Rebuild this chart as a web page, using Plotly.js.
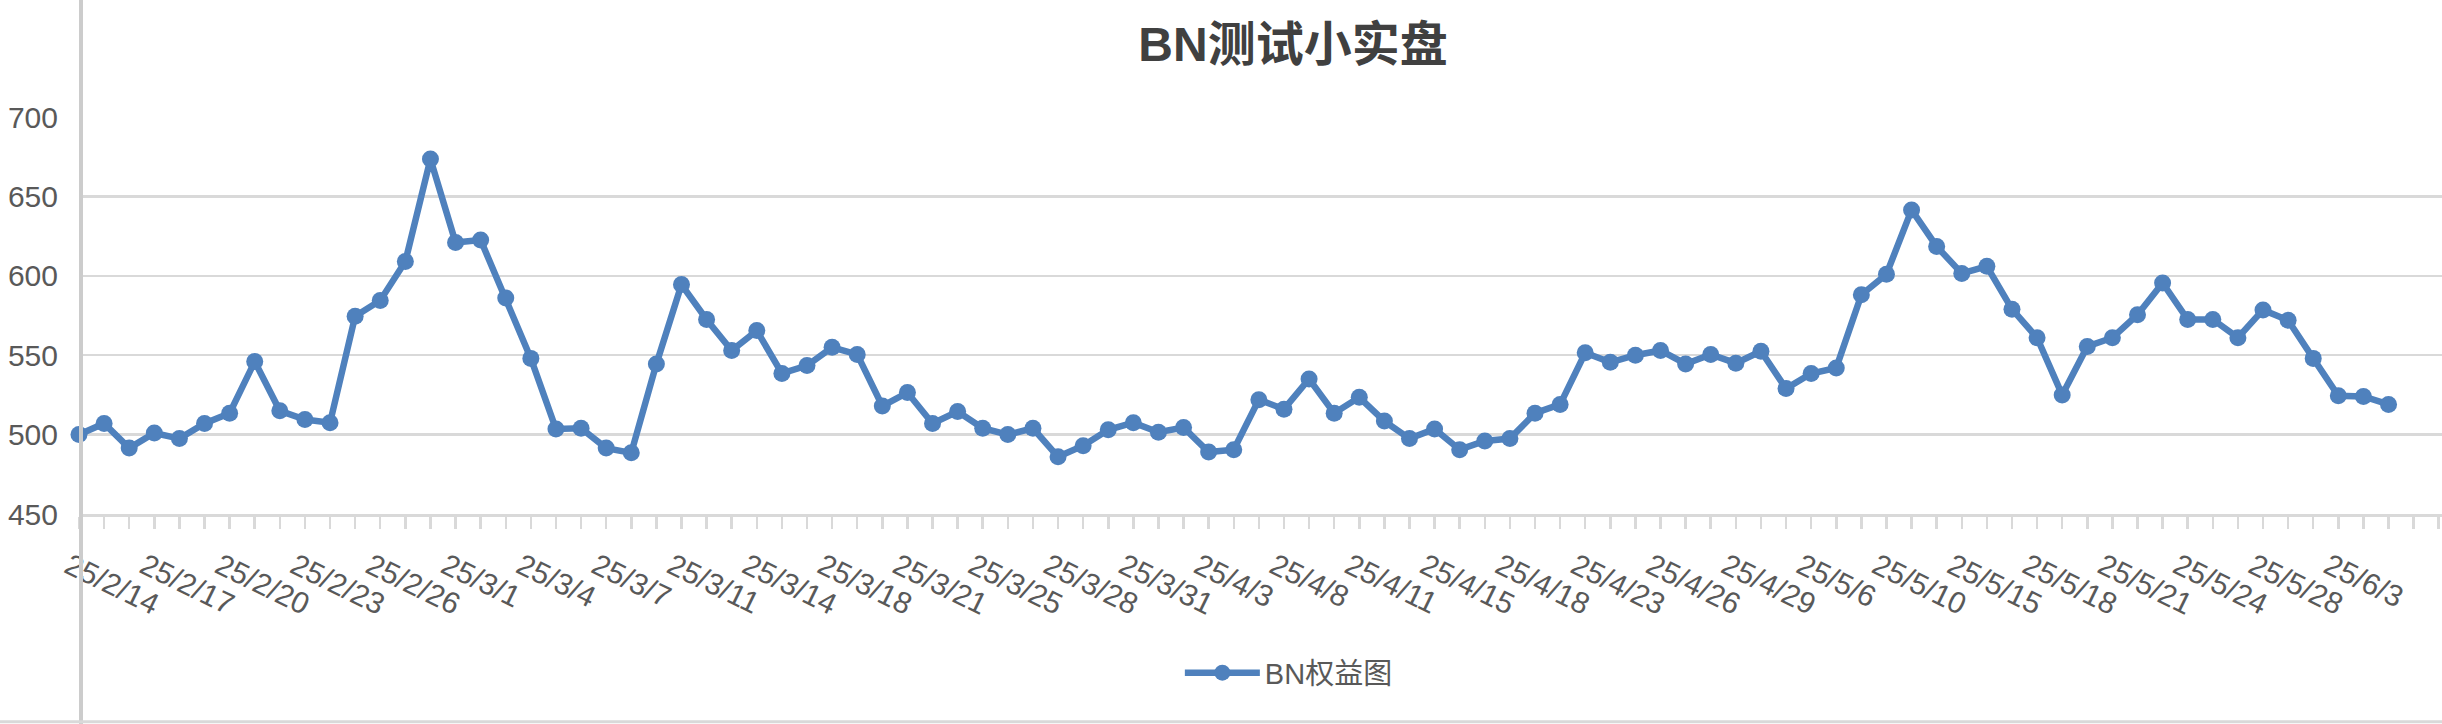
<!DOCTYPE html>
<html>
<head>
<meta charset="utf-8">
<script src="https://cdn.plot.ly/plotly-3.0.1.min.js"></script>
<style>html,body{margin:0;padding:0;background:#fff;}#chart{width:2442px;height:724px;}</style>
</head>
<body>
<div id="chart"></div>
<script>
// ---- data ----
const chartTitle = 'BN测试小实盘';
const seriesName = 'BN权益图';
const tickLabels = ['25/2/14','25/2/17','25/2/20','25/2/23','25/2/26','25/3/1','25/3/4','25/3/7','25/3/11','25/3/14','25/3/18','25/3/21','25/3/25','25/3/28','25/3/31','25/4/3','25/4/8','25/4/11','25/4/15','25/4/18','25/4/23','25/4/26','25/4/29','25/5/6','25/5/10','25/5/15','25/5/18','25/5/21','25/5/24','25/5/28','25/6/3'];
const labelStep = 3;
const equity = [500,507,491.5,501,497.5,507,513.5,546,515,509.5,
  507.5,574.5,584.5,609,673.5,621,622.5,586,548,503.5,
  504,491.5,488.5,544.5,594.5,572.5,553,565.5,538.5,543.5,
  555,550.5,518,526.5,507,514.5,504,500,504,486,
  493,503,507.5,501.5,504.5,489,490.5,522,516,535,
  513.5,523.5,508.5,497.5,503.5,490.5,496,497.5,513.5,519,
  551.5,545.5,550,553,544.5,550.5,545,552.5,529,538.5,
  542,588,601,641.5,618.5,601.5,606,579,561,525,
  555.5,561,575.5,595.5,572.5,572.5,561,578.5,572,548,
  524.5,524,519];
const yTicks = [450,500,550,600,650,700];

// ---- chart ----
const xIdx = equity.map((_, i) => i);
const tickVals = tickLabels.map((_, i) => i * labelStep);
const blue = '#4f81bd';
const grey = '#595959';
const lineGrey = '#d9d9d9';
const fontFam = '"Liberation Sans", Arial, "Noto Sans CJK SC", sans-serif';

const trace = {
  x: xIdx, y: equity, type: 'scatter', mode: 'lines+markers', name: seriesName,
  line: {color: blue, width: 6.5},
  marker: {color: blue, size: 17, line: {width: 0}},
  cliponaxis: false,
  showlegend: true
};

const layout = {
  width: 2442, height: 724,
  margin: {l: 79, r: 0, t: 117, b: 210, pad: 0},
  paper_bgcolor: '#fff', plot_bgcolor: '#fff',
  font: {family: fontFam, color: grey, size: 29},
  title: {
    text: chartTitle, x: 0.5295, xanchor: 'center', y: 0.939, yanchor: 'middle',
    xref: 'container', yref: 'container',
    font: {family: fontFam, size: 48, color: '#404040', weight: 'bold'}
  },
  xaxis: {
    range: [0, 94.13], showgrid: false, zeroline: false,
    showline: true, linecolor: lineGrey, linewidth: 3,
    tickmode: 'array', tickvals: tickVals, ticktext: tickLabels,
    ticks: 'outside', ticklen: 12, tickwidth: 2.5, tickcolor: lineGrey,
    minor: {dtick: 1, tick0: 0, ticks: 'outside', ticklen: 12, tickwidth: 2.5, tickcolor: lineGrey, showgrid: false},
    tickangle: 26, ticklabelshift: -10, ticklabelstandoff: 8,
    tickfont: {size: 30, color: grey, family: fontFam},
    fixedrange: true
  },
  yaxis: {
    range: [450, 700], tickmode: 'array', tickvals: yTicks,
    showgrid: true, gridcolor: lineGrey, gridwidth: 2.5,
    zeroline: false, showline: false, ticks: '',
    ticklabelstandoff: 20,
    tickfont: {size: 30, color: grey, family: fontFam},
    fixedrange: true
  },
  showlegend: true,
  legend: {
    orientation: 'h', x: 0.512, xanchor: 'center', y: -0.40, yanchor: 'middle',
    font: {size: 29, color: grey, family: fontFam}, itemwidth: 75,
    bgcolor: 'rgba(0,0,0,0)'
  },
  shapes: [
    {type: 'line', xref: 'paper', yref: 'paper', xsizemode: 'pixel', xanchor: 0, x0: 2, x1: 2,
     y0: -0.54, y1: 1.31, line: {color: '#cccccc', width: 4}},
    {type: 'line', xref: 'paper', yref: 'paper', x0: -0.05, x1: 1.01,
     ysizemode: 'pixel', yanchor: 0, y0: -207.7, y1: -207.7, line: {color: lineGrey, width: 3}}
  ]
};

Plotly.newPlot('chart', [trace], layout, {displayModeBar: false, staticPlot: true});
</script>
</body>
</html>
